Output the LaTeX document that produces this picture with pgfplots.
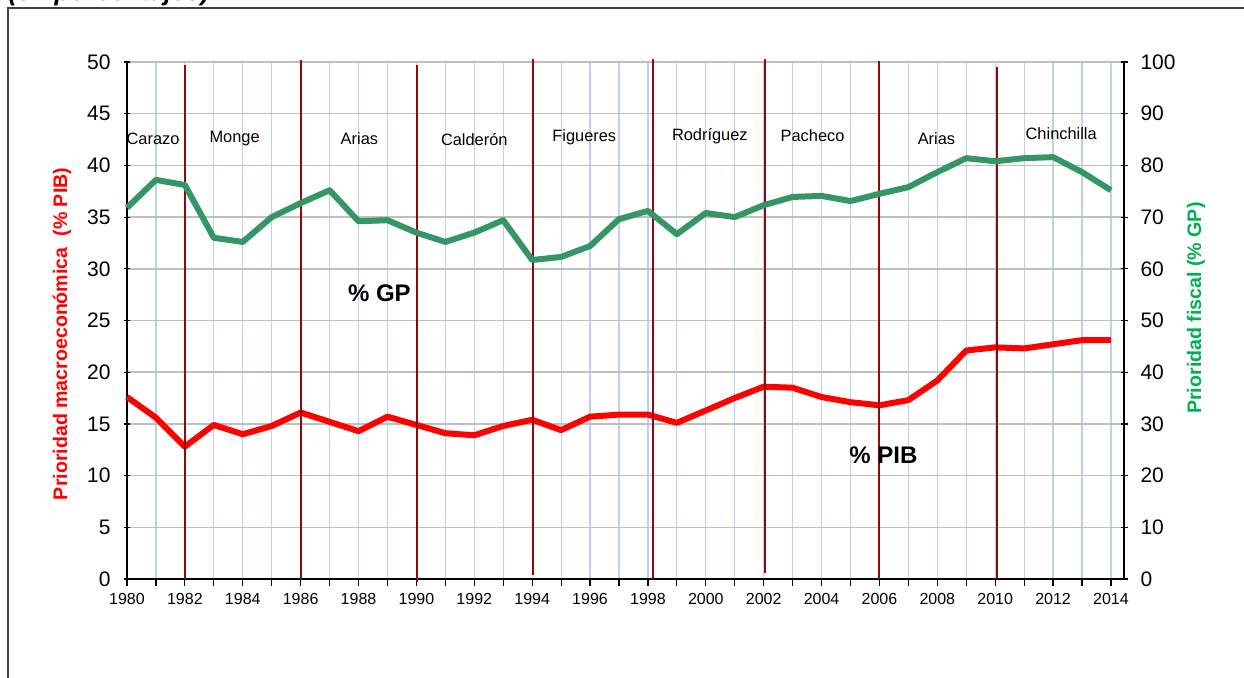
\documentclass[border=0pt]{standalone}
\usepackage{fontspec}
\setmainfont{Liberation Sans}
\usepackage{pgfplots}
\pgfplotsset{compat=1.18}
\definecolor{gline}{RGB}{51,150,100}
\definecolor{glab}{RGB}{0,176,80}
\definecolor{vred}{RGB}{145,10,10}
\definecolor{bgrid}{RGB}{190,208,240}
\definecolor{hgrid}{RGB}{191,191,191}
\begin{document}
\begin{tikzpicture}
\useasboundingbox (0,0) rectangle (622pt,338.5pt);
\draw[line width=1pt, black!75] (4pt,-5pt) -- (4pt,334.5pt) -- (630pt,334.5pt);
\node[anchor=base west, font=\bfseries\itshape\fontsize{13}{15}\selectfont, inner sep=0pt] at (4pt,338pt) {(en porcentajes)};
\begin{axis}[
  scale only axis, width=498.5pt, height=258.5pt,
  at={(63.5pt,49pt)}, anchor=south west,
  xmin=1980, xmax=2014.45, ymin=0, ymax=50,
  axis x line*=bottom, axis y line*=left,
  xtick={1980,1981,...,2014},
  xticklabels={1980,,1982,,1984,,1986,,1988,,1990,,1992,,1994,,1996,,1998,,2000,,2002,,2004,,2006,,2008,,2010,,2012,,2014},
  ytick={0,5,...,50},
  xmajorgrids, ymajorgrids,
  x grid style={bgrid, line width=0.6pt},
  y grid style={hgrid, line width=0.75pt},
  xtick align=outside, ytick align=center, major tick length=3.5pt,
  tick style={black, line width=0.6pt},
  axis line style={black, line width=0.75pt},
  x tick label style={font=\fontsize{8}{9}\selectfont},
  y tick label style={font=\fontsize{10.5}{12}\selectfont, xshift=-3pt},
  /pgf/number format/assume math mode=true,
  ylabel={Prioridad macroeconómica~~(\% PIB)},
  ylabel style={font=\bfseries\fontsize{9.8}{11}\selectfont, text=red, at={(axis description cs:-0.0652,0.474)}, anchor=center},
  clip=false,
]
\addplot[red, line width=3pt, line join=round] coordinates {
(1980,17.6) (1981,15.6) (1982,12.8) (1983,14.9) (1984,14.0) (1985,14.8)
(1986,16.1) (1987,15.2) (1988,14.3) (1989,15.7) (1990,14.9) (1991,14.1)
(1992,13.9) (1993,14.8) (1994,15.4) (1995,14.4) (1996,15.7) (1997,15.9)
(1998,15.9) (1999,15.1) (2000,16.3) (2001,17.5) (2002,18.6) (2003,18.5)
(2004,17.6) (2005,17.1) (2006,16.8) (2007,17.3) (2008,19.2) (2009,22.1)
(2010,22.4) (2011,22.3) (2012,22.7) (2013,23.1) (2014,23.1)};
\addplot[vred, line width=1pt] coordinates {(1982,0) (1982,49.7)};
\addplot[vred, line width=1pt] coordinates {(1986,0) (1986,50.2)};
\addplot[vred, line width=1pt] coordinates {(1990.03,-0.3) (1990.03,49.7)};
\addplot[vred, line width=1pt] coordinates {(1994.03,0.4) (1994.03,50.3)};
\addplot[vred, line width=1pt] coordinates {(1998.17,0) (1998.17,50.3)};
\addplot[vred, line width=1pt] coordinates {(2002.05,0.6) (2002.05,50.3)};
\addplot[vred, line width=1pt] coordinates {(2006,0) (2006,50.1)};
\addplot[vred, line width=1pt] coordinates {(2010.07,0) (2010.07,49.5)};
\begin{scope}[font=\fontsize{8.2}{10}\selectfont]
\node at (axis cs:1980.9,42.6) {Carazo};
\node at (axis cs:1983.72,42.6) {Monge};
\node at (axis cs:1988.03,42.6) {Arias};
\node at (axis cs:1992.0,42.5) {Calderón};
\node at (axis cs:1995.8,42.7) {Figueres};
\node at (axis cs:2000.14,42.8) {Rodríguez};
\node at (axis cs:2003.69,42.9) {Pacheco};
\node at (axis cs:2007.97,42.6) {Arias};
\node at (axis cs:2012.28,43.1) {Chinchilla};
\end{scope}
\node[font=\bfseries\fontsize{12}{14}\selectfont] at (axis cs:1988.72,27.66) {\% GP};
\node[font=\bfseries\fontsize{12}{14}\selectfont] at (axis cs:2006.14,12.0) {\% PIB};
\end{axis}
\begin{axis}[
  scale only axis, width=498.5pt, height=258.5pt,
  at={(63.5pt,49pt)}, anchor=south west,
  xmin=1980, xmax=2014.45, ymin=0, ymax=100,
  axis y line*=right, axis x line=none,
  ytick={0,10,...,100},
  ytick align=center, major tick length=3.5pt,
  tick style={black, line width=0.6pt},
  axis line style={black, line width=0.75pt},
  y tick label style={font=\fontsize{10.5}{12}\selectfont, xshift=3pt},
  /pgf/number format/assume math mode=true,
  ylabel={Prioridad fiscal (\% GP)},
  ylabel style={font=\bfseries\fontsize{9.8}{11}\selectfont, text=glab, at={(axis description cs:1.0722,0.524)}, anchor=center},
  clip=false,
]
\addplot[gline, line width=3pt, line join=round] coordinates {
(1980,71.8) (1981,77.2) (1982,76.2) (1983,66.0) (1984,65.2) (1985,70.0)
(1986,72.7) (1987,75.2) (1988,69.2) (1989,69.4) (1990,67.0) (1991,65.2)
(1992,67.0) (1993,69.4) (1994,61.7) (1995,62.3) (1996,64.4) (1997,69.6)
(1998,71.2) (1999,66.7) (2000,70.8) (2001,70.0) (2002,72.3) (2003,73.9)
(2004,74.1) (2005,73.1) (2006,74.5) (2007,75.8) (2008,78.7) (2009,81.4)
(2010,80.8) (2011,81.4) (2012,81.6) (2013,78.7) (2014,75.2)};
\end{axis}
\end{tikzpicture}
\end{document}
